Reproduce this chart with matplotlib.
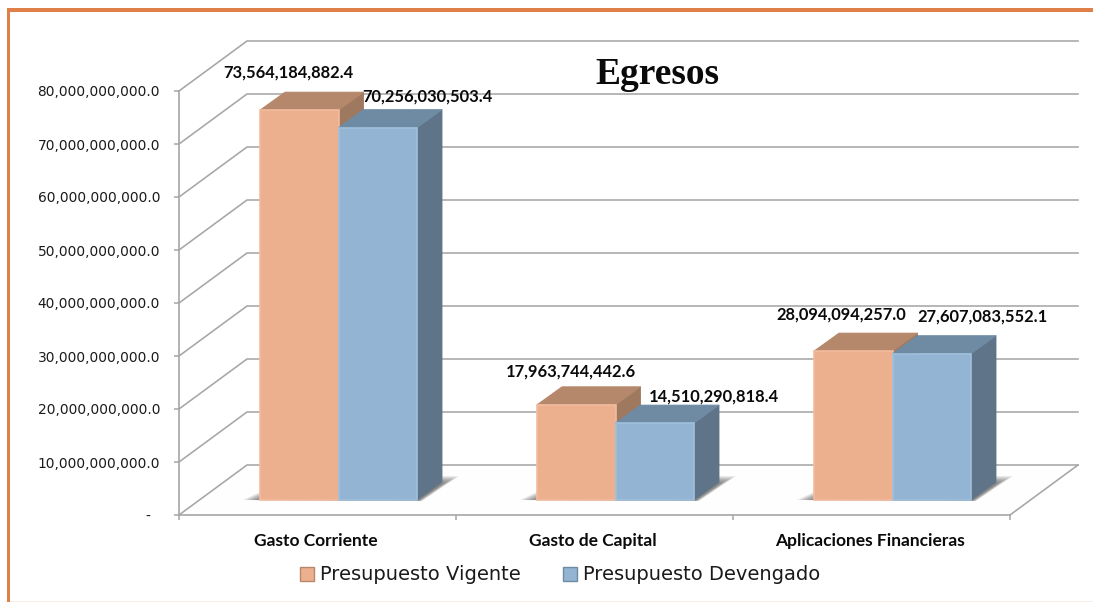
import matplotlib
matplotlib.use("Agg")
import matplotlib.pyplot as plt
from matplotlib.patches import Polygon, Patch, Rectangle
from matplotlib.transforms import Affine2D

categories = ["Gasto Corriente", "Gasto de Capital", "Aplicaciones Financieras"]
series_names = ["Presupuesto Vigente", "Presupuesto Devengado"]
vigente = [73564184882.4, 17963744442.6, 28094094257.0]
devengado = [70256030503.4, 14510290818.4, 27607083552.1]
tick_values = [0, 1e10, 2e10, 3e10, 4e10, 5e10, 6e10, 7e10, 8e10]
tick_labels = ["-  ", "10,000,000,000.0", "20,000,000,000.0", "30,000,000,000.0",
               "40,000,000,000.0", "50,000,000,000.0", "60,000,000,000.0",
               "70,000,000,000.0", "80,000,000,000.0"]
title = "Egresos"

W, H = 1093, 602
fig = plt.figure(figsize=(W / 100, H / 100), dpi=100, facecolor="white")
L, R, T, B = 179, 1010, 91, 515
ax = fig.add_axes([L / W, 1 - B / H, (R - L) / W, (B - T) / H])
ax.set_xlim(0, 3)
ax.set_ylim(0, 8e10)
ax.patch.set_alpha(0)
PX = 3 / (R - L)
PY = 8e10 / (B - T)

GRID = "#A6A6A6"
WALL_DX, WALL_DY = 68 * PX, 50 * PY
BAR_DX, BAR_DY = 21 * PX, 15 * PY
DEPTH_X, DEPTH_Y = 25 * PX, 18 * PY
BAR_W = 78.5 * PX

# floor and grid
ax.add_patch(Polygon([(0, 0), (3, 0), (3 + WALL_DX, WALL_DY), (WALL_DX, WALL_DY)],
                     closed=True, fc="#FEFEFE", ec="none", clip_on=False, zorder=1))
ax.plot([3, 3 + WALL_DX], [0, WALL_DY], color=GRID, lw=1.15, clip_on=False, zorder=2)
for v in tick_values:
    ax.plot([0, WALL_DX, 3 + WALL_DX], [v, v + WALL_DY, v + WALL_DY],
            color=GRID, lw=1.15, clip_on=False, zorder=2, solid_joinstyle="miter")

front_cols = ["#EDB08F", "#93B5D3"]
top_cols = ["#B5876B", "#6F8BA3"]
side_cols = ["#9F7860", "#5F7488"]
edge_cols = ["#F3BC9E", "#9FC0DC"]

# floor shadows: layered soft parallelograms behind each bar pair
for i in range(3):
    x0 = i + 0.5 + BAR_DX - BAR_W
    x1 = i + 0.5 + BAR_DX + BAR_W
    for g in [1.0, .9, .8, .7, .6, .5, .4, .3, .2, .1]:
        ax.add_patch(Polygon([(x0 - 17 * g * PX, BAR_DY),
                              (x1 + 5 * g * PX, BAR_DY - 1 * PY),
                              (x1 + (25 + 17 * g) * PX, BAR_DY + (16 + 8 * g) * PY),
                              (x1, BAR_DY + (18 + 6 * g) * PY),
                              (x0 + 4 * PX, BAR_DY + (1 + 9 * g) * PY)],
                             closed=True, fc="#3A3A3A", ec="none", alpha=.085,
                             clip_on=False, zorder=3))

# bars
label_offsets = [[(-11, 38), (-5, 33), (-12, 37)], [(50, 31), (59, 27), (51, 37)]]
for s, vals in enumerate([vigente, devengado]):
    for i, v in enumerate(vals):
        x0 = i + 0.5 + BAR_DX + (s - 1) * BAR_W
        x1 = x0 + BAR_W
        y0 = BAR_DY
        y1 = BAR_DY + v
        z = 5 + i * 2 + s * .5
        ax.add_patch(Polygon([(x1, y0), (x1 + DEPTH_X, y0 + DEPTH_Y),
                              (x1 + DEPTH_X, y1 + DEPTH_Y), (x1, y1)],
                             closed=True, fc=side_cols[s], ec=side_cols[s], lw=.6,
                             clip_on=False, zorder=z))
        ax.add_patch(Polygon([(x0, y1), (x1, y1), (x1 + DEPTH_X, y1 + DEPTH_Y),
                              (x0 + DEPTH_X, y1 + DEPTH_Y)],
                             closed=True, fc=top_cols[s], ec=top_cols[s], lw=.6,
                             joinstyle="round", clip_on=False, zorder=z))
        ax.add_patch(Rectangle((x0, y0), BAR_W, v, fc=front_cols[s], ec=edge_cols[s],
                               lw=1.2, clip_on=False, zorder=z + .1))
        ox, oy = label_offsets[s][i]
        ax.annotate(f"{v:,.1f}", xy=(x0 + BAR_W / 2, y1), xytext=(ox * .72, oy * .72),
                    textcoords="offset points", ha="center", va="center",
                    fontsize=11.9, fontweight="bold", family="Lato", color="#0A0A0A",
                    annotation_clip=False, zorder=20)

# axes
for sp in ["top", "right"]:
    ax.spines[sp].set_visible(False)
for sp in ["left", "bottom"]:
    ax.spines[sp].set_color(GRID)
    ax.spines[sp].set_linewidth(1.2)
    ax.spines[sp].set_zorder(4)
ax.set_yticks(tick_values)
ax.set_yticklabels(tick_labels, fontsize=9.9, family="DejaVu Sans", color="#1A1A1A")
ax.tick_params(axis="y", length=3.6, width=1.1, color=GRID, pad=10)
ax.set_xticks([0, 1, 2, 3])
ax.set_xticklabels([])
ax.set_xticks([0.5, 1.5, 2.5], minor=True)
ax.set_xticklabels(categories, minor=True, fontsize=12.5, fontweight="bold",
                   family="Lato", color="#0A0A0A")
ax.tick_params(axis="x", which="major", length=3.6, width=1.1, color=GRID)
ax.tick_params(axis="x", which="minor", length=0, pad=13)
for lab in ax.get_xticklabels(minor=True):
    lab.set_transform(lab.get_transform() + Affine2D().translate(-1.5, 0))

fig.text(657 / W, 1 - 74 / H, title, ha="center", va="center", fontsize=27,
         fontweight="bold", family="Liberation Serif", color="#0A0A0A")

handles = [Patch(fc=front_cols[0], ec="#B5876B", lw=1), Patch(fc=front_cols[1], ec="#6F8BA3", lw=1)]
fig.legend(handles, series_names, loc="center", bbox_to_anchor=(560 / W, 1 - 575 / H),
           ncol=2, frameon=False, prop={"family": "DejaVu Sans", "size": 14},
           handlelength=.75, handleheight=.75, handletextpad=.3, columnspacing=2.15,
           labelcolor="#1A1A1A")

# frame
fig.add_artist(Rectangle((7 / W, 1 - 12 / H), 1, 4 / H, transform=fig.transFigure,
                         fc="#E08048", ec="none"))
fig.add_artist(Rectangle((7 / W, 0), 3 / W, 1 - 8 / H, transform=fig.transFigure,
                         fc="#E08048", ec="none"))
fig.add_artist(Rectangle((10 / W, 0), 1, 1.5 / H, transform=fig.transFigure,
                         fc="#F8EDE6", ec="none"))

fig.savefig("out.png", dpi=100, facecolor="white")
